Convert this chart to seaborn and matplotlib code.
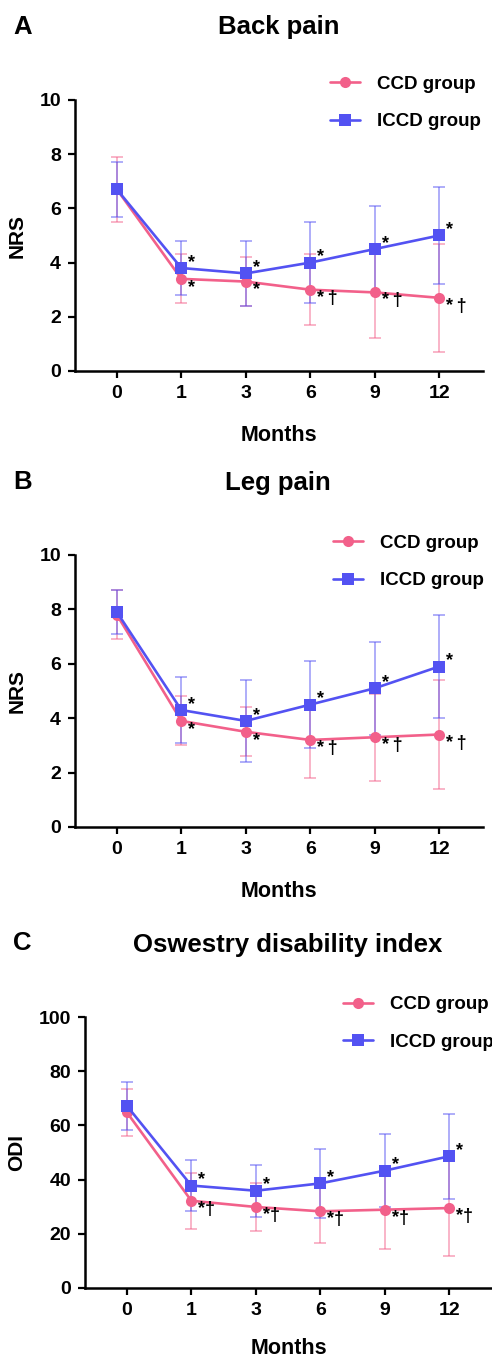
import numpy as np
import pandas as pd
import matplotlib
matplotlib.use("Agg")
import matplotlib.pyplot as plt
import seaborn as sns

# === DADOS ===
MONTHS = ["0", "1", "3", "6", "9", "12"]
GROUPS = ["CCD group", "ICCD group"]

back_ccd_mean = [6.7, 3.4, 3.3, 3.0, 2.9, 2.7]
back_ccd_sd = [1.2, 0.9, 0.9, 1.3, 1.7, 2.0]
back_iccd_mean = [6.7, 3.8, 3.6, 4.0, 4.5, 5.0]
back_iccd_sd = [1.0, 1.0, 1.2, 1.5, 1.6, 1.8]
back_ccd_marks = ["", "*", "*", "*\u2009†", "*\u2009†", "*\u2009†"]
back_iccd_marks = ["", "*", "*", "*", "*", "*"]

leg_ccd_mean = [7.8, 3.9, 3.5, 3.2, 3.3, 3.4]
leg_ccd_sd = [0.9, 0.9, 0.9, 1.4, 1.6, 2.0]
leg_iccd_mean = [7.9, 4.3, 3.9, 4.5, 5.1, 5.9]
leg_iccd_sd = [0.8, 1.2, 1.5, 1.6, 1.7, 1.9]
leg_ccd_marks = ["", "*", "*", "*\u2009†", "*\u2009†", "*\u2009†"]
leg_iccd_marks = ["", "*", "*", "*", "*", "*"]

odi_ccd_mean = [64.8, 32.2, 29.9, 28.3, 28.9, 29.5]
odi_ccd_sd = [8.8, 10.3, 8.7, 11.7, 14.6, 17.8]
odi_iccd_mean = [67.2, 37.8, 35.9, 38.6, 43.3, 48.6]
odi_iccd_sd = [8.9, 9.4, 9.6, 12.6, 13.5, 15.6]
odi_ccd_marks = ["", "*†", "*†", "*†", "*†", "*†"]
odi_iccd_marks = ["", "*", "*", "*", "*", "*"]

PINK = "#F2608A"
BLUE = "#5352F2"
PALETTE = {"CCD group": PINK, "ICCD group": BLUE}

sns.set_theme(style="ticks")
plt.rcParams["font.family"] = ["Liberation Sans", "DejaVu Sans"]
plt.rcParams["font.weight"] = "bold"
plt.rcParams["axes.labelweight"] = "bold"
for k in ["text.color", "axes.labelcolor", "xtick.color", "ytick.color"]:
    plt.rcParams[k] = "black"

W, H = 492, 1360
fig = plt.figure(figsize=(W / 100, H / 100), dpi=100)


def px_axes(left, top, right, bottom):
    return fig.add_axes([left / W, 1 - bottom / H, (right - left) / W, (bottom - top) / H])


def painel(ax, letra, titulo, ylabel, ymax, ccd_m, ccd_sd, iccd_m, iccd_sd,
           ccd_marks, iccd_marks, title_xy, letra_y, leg_anchor, xlabelpad=17):
    df = pd.DataFrame({
        "pos": list(range(len(MONTHS))) * 2,
        "valor": ccd_m + iccd_m,
        "sd": ccd_sd + iccd_sd,
        "grupo": [GROUPS[0]] * len(MONTHS) + [GROUPS[1]] * len(MONTHS),
    })

    # barras de erro (mais claras, por baixo)
    for g in GROUPS:
        sub = df[df["grupo"] == g]
        ax.errorbar(sub["pos"], sub["valor"], yerr=sub["sd"], fmt="none",
                    ecolor=PALETTE[g], alpha=0.55, elinewidth=1.2,
                    capsize=4, capthick=1.2, zorder=2)

    sns.lineplot(data=df, x="pos", y="valor", hue="grupo", style="grupo",
                 palette=PALETTE, markers={"CCD group": "o", "ICCD group": "s"},
                 dashes=False, linewidth=1.9, markersize=8,
                 markeredgewidth=0, ax=ax, zorder=3)

    # asteriscos / cruzes
    for i in range(len(MONTHS)):
        if iccd_marks[i]:
            ax.annotate(iccd_marks[i], (i, iccd_m[i]), xytext=(5, -2),
                        textcoords="offset points", ha="left", va="bottom",
                        fontsize=13, fontweight="bold")
        if ccd_marks[i]:
            ax.annotate(ccd_marks[i], (i, ccd_m[i]), xytext=(5, 0),
                        textcoords="offset points", ha="left", va="top",
                        fontsize=13, fontweight="bold")

    ax.set_xlim(-0.65, 5.68)
    ax.set_ylim(0, ymax)
    ax.set_yticks(np.linspace(0, ymax, 6))
    ax.set_xticks(range(len(MONTHS)))
    ax.set_xticklabels(MONTHS)
    ax.set_xlabel("Months", fontsize=15.5, fontweight="bold", labelpad=xlabelpad)
    ax.set_ylabel(ylabel, fontsize=15, fontweight="bold", labelpad=9)
    ax.tick_params(axis="both", labelsize=14, width=1.6, length=5, pad=5)
    for lab in ax.get_xticklabels() + ax.get_yticklabels():
        lab.set_fontweight("bold")
    sns.despine(ax=ax)
    for s in ["left", "bottom"]:
        ax.spines[s].set_linewidth(1.8)
        ax.spines[s].set_color("black")

    handles, labels = ax.get_legend_handles_labels()
    ax.legend(handles, labels, loc="upper left", bbox_to_anchor=leg_anchor,
              frameon=False, handlelength=1.6, handletextpad=0.9,
              labelspacing=1.1, borderpad=0, borderaxespad=0,
              prop={"weight": "bold", "size": 13.5})

    fig.text(title_xy[0] / W, 1 - title_xy[1] / H, titulo, ha="center", va="center",
             fontsize=18.5, fontweight="bold")
    fig.text(13 / W, 1 - letra_y / H, letra, ha="left", va="center",
             fontsize=18.5, fontweight="bold")


axA = px_axes(75, 100, 483, 371)
painel(axA, "A", "Back pain", "NRS", 10, back_ccd_mean, back_ccd_sd,
       back_iccd_mean, back_iccd_sd, back_ccd_marks, back_iccd_marks,
       (279, 27), 27, (0.625, 1.09))

axB = px_axes(75, 555, 483, 827)
painel(axB, "B", "Leg pain", "NRS", 10, leg_ccd_mean, leg_ccd_sd,
       leg_iccd_mean, leg_iccd_sd, leg_ccd_marks, leg_iccd_marks,
       (278, 483), 482, (0.632, 1.075))

axC = px_axes(85, 1017, 493, 1288)
painel(axC, "C", "Oswestry disability index", "ODI", 100, odi_ccd_mean, odi_ccd_sd,
       odi_iccd_mean, odi_iccd_sd, odi_ccd_marks, odi_iccd_marks,
       (288, 945), 943, (0.632, 1.077), xlabelpad=14)

fig.savefig("out.png", dpi=100)
